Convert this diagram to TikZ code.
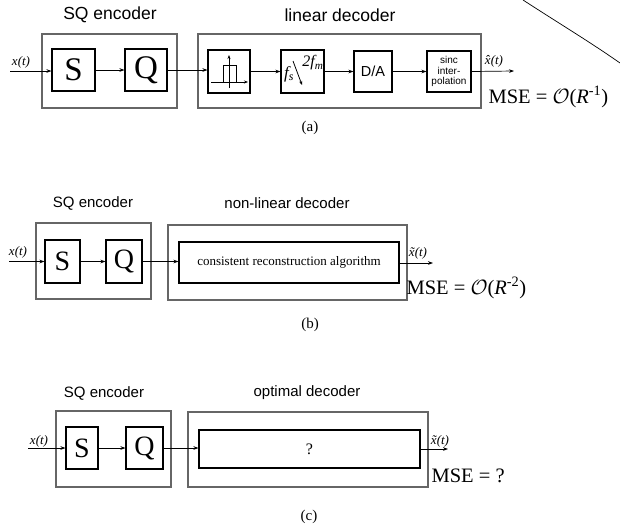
\documentclass[tikz,border=0pt]{standalone}
\usepackage{fontspec}
\setmainfont{Liberation Serif}
\setsansfont{Liberation Sans}
\usetikzlibrary{arrows.meta}
\tikzset{
  outer/.style={draw=black!60, line width=1.3pt, inner sep=0pt},
  blk/.style={draw, line width=1.1pt, inner sep=0pt},
  arr/.style={-{Stealth[length=5pt,width=3.6pt]}, line width=0.7pt},
  hdA/.style={font=\sffamily\fontsize{17.5}{20}\selectfont},
  hdB/.style={font=\sffamily\fontsize{15}{18}\selectfont},
  letA/.style={font=\fontsize{33}{36}\selectfont},
  letB/.style={font=\fontsize{28}{30}\selectfont},
  sig/.style={font=\itshape\fontsize{13}{15}\selectfont},
  mse/.style={font=\fontsize{20.5}{23}\selectfont, anchor=west},
  caplbl/.style={font=\fontsize{15}{17}\selectfont},
}
\begin{document}
\begin{tikzpicture}[x=1pt,y=-1pt]
\useasboundingbox (0,0) rectangle (620,531);
% ---------- panel (a)
\node[outer, minimum width=135pt, minimum height=74pt] (encA) at (109.5,71) {};
\node[outer, minimum width=283pt, minimum height=74pt] (decA) at (339.5,71) {};
\node[hdA] (encAl) at (110,15) {SQ encoder};
\node[hdA] (decAl) at (340,15) {linear decoder};
\node[blk, letA, minimum width=43pt, minimum height=42pt] (SA) at (73.5,70) {S};
\node[blk, letA, minimum width=42pt, minimum height=42pt] (QA) at (146,70) {Q};
\node[blk, minimum width=42pt, minimum height=43pt] (fil) at (229,71.5) {};
\node[blk, minimum width=43pt, minimum height=43pt] (fs) at (302.5,71.5) {};
\node[blk, font=\sffamily\fontsize{14.5}{16}\selectfont, minimum width=38pt, minimum height=41pt] (DA) at (373,71.5) {D/A};
\node[blk, font=\sffamily\fontsize{10}{10.5}\selectfont, align=center, minimum width=44pt, minimum height=41pt] (sinc) at (449,71.5) {sinc\\inter-\\polation};
\coordinate (inA) at (10,71);
\coordinate (outA) at (514,71);
\node[sig] (xA) at (21,62) {x(t)};
\node[sig] (xhA) at (494,61) {\^x(t)};
\draw[arr] (inA) -- (SA.west |- inA);
\draw[arr] (SA.east) -- (QA.west);
\draw[arr] (QA.east) -- (fil.west |- QA.east);
\draw[arr] (fil.east) -- (fs.west);
\draw[arr] (fs.east) -- (DA.west);
\draw[arr] (DA.east) -- (sinc.west);
\draw[arr] (sinc.east) -- (outA);
% filter icon
\draw[-{Stealth[length=4pt,width=3pt]}, line width=0.7pt] (211,82) -- (248,82);
\draw[-{Stealth[length=4pt,width=3pt]}, line width=0.7pt] (229,88) -- (229,55);
\draw[line width=0.8pt] (223,82) -- (223,65) -- (236,65) -- (236,82);
% fs block content
\node[font=\itshape\fontsize{17}{18}\selectfont, inner sep=0pt] (fsl) at (289,74) {f\textsubscript{s}};
\node[font=\itshape\fontsize{16}{18}\selectfont, inner sep=0pt] (fml) at (313,63) {2f\textsubscript{m}};
\draw[-{Stealth[length=4pt,width=3pt]}, line width=0.8pt] (293,61) -- (302,85);
\node[mse] (mseA) at (485,97) {MSE = $\mathcal{O}$(\textit{R}\textsuperscript{-1})};
\node[caplbl] (capA) at (310,128) {(a)};
\draw[line width=0.7pt] (523,0) .. controls (560,24) and (590,42) .. (620,63);
% ---------- panel (b)
\node[outer, minimum width=115pt, minimum height=76pt] (encB) at (93.5,261) {};
\node[outer, minimum width=239pt, minimum height=75pt] (decB) at (287.5,262.5) {};
\node[hdB] (encBl) at (93,203) {SQ encoder};
\node[hdB] (decBl) at (287,203) {non-linear decoder};
\node[blk, letB, minimum width=35pt, minimum height=43pt] (SB) at (62.5,261.5) {S};
\node[blk, letB, minimum width=36pt, minimum height=43pt] (QB) at (124,261.5) {Q};
\node[blk, font=\fontsize{13}{15}\selectfont, minimum width=220pt, minimum height=41pt] (algB) at (289,262.5) {consistent reconstruction algorithm};
\coordinate (inB) at (9,261.5);
\coordinate (outB) at (433,263);
\node[sig] (xB) at (18,252) {x(t)};
\node[sig] (xtB) at (418,253) {\~x(t)};
\draw[arr] (inB) -- (SB.west);
\draw[arr] (SB.east) -- (QB.west);
\draw[arr] (QB.east) -- (algB.west |- QB.east);
\draw[arr] (algB.east |- outB) -- (outB);
\node[mse] (mseB) at (403,288) {MSE = $\mathcal{O}$(\textit{R}\textsuperscript{-2})};
\node[caplbl] (capB) at (310,325) {(b)};
% ---------- panel (c)
\node[outer, minimum width=115pt, minimum height=76pt] (encC) at (113.5,449) {};
\node[outer, minimum width=240pt, minimum height=75pt] (decC) at (308,449.5) {};
\node[hdB] (encCl) at (104,393) {SQ encoder};
\node[hdB] (decCl) at (307,393) {optimal decoder};
\node[blk, letB, minimum width=32pt, minimum height=42pt] (SC) at (82,448) {S};
\node[blk, letB, minimum width=37pt, minimum height=42pt] (QC) at (144.5,448) {Q};
\node[blk, font=\fontsize{16}{18}\selectfont, minimum width=221pt, minimum height=38pt] (algC) at (309.5,449) {?};
\coordinate (inC) at (28,448);
\coordinate (outC) at (448,449);
\node[sig] (xC) at (39,441) {x(t)};
\node[sig] (xtC) at (440,441) {\~x(t)};
\draw[arr] (inC) -- (SC.west);
\draw[arr] (SC.east) -- (QC.west);
\draw[arr] (QC.east) -- (algC.west |- QC.east);
\draw[arr] (algC.east |- outC) -- (outC);
\node[mse] (mseC) at (428,476) {MSE = ?};
\node[caplbl] (capC) at (309,517) {(c)};
\end{tikzpicture}
\end{document}
